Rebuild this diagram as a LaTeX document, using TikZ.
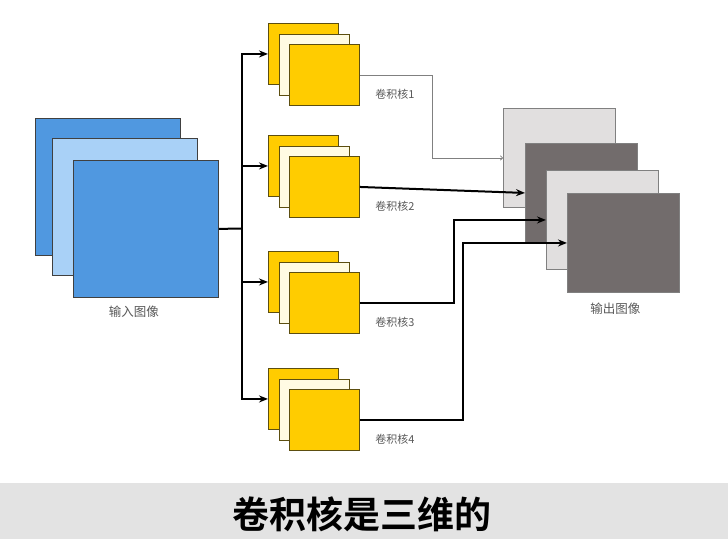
\documentclass[tikz,border=0pt]{standalone}
\usepackage{fontspec}
\newfontfamily\cjk{Noto Sans CJK SC}[BoldFont={Noto Sans CJK SC Bold}]
\usetikzlibrary{arrows.meta,positioning,calc}

\definecolor{imgblue}{HTML}{5098E0}
\definecolor{imglight}{HTML}{A9D1F7}
\definecolor{kgold}{HTML}{FFCC00}
\definecolor{kedge}{HTML}{5C4E10}
\definecolor{kcream}{HTML}{FFFBE3}
\definecolor{olight}{HTML}{E1DFDF}
\definecolor{odark}{HTML}{726C6C}
\definecolor{band}{HTML}{E3E3E3}

\begin{document}
\begin{tikzpicture}[
    x=1pt, y=-1pt,
    sheet/.style={
        draw,
        inner sep=0pt,
        anchor=north west
    },
    inbox/.style={
        sheet,
        draw=black!75,
        line width=0.8pt,
        minimum width=145pt,
        minimum height=137pt
    },
    kbox/.style={
        sheet,
        draw=kedge,
        line width=0.9pt,
        minimum width=70pt,
        minimum height=61pt
    },
    outbox/.style={
        sheet,
        draw=black!50,
        line width=0.9pt,
        minimum width=112pt,
        minimum height=99pt
    },
    lbl/.style={font=\cjk\fontsize{11}{13}\selectfont, text=black!65},
    feed/.style={-{Stealth[length=9pt,width=7pt]}, line width=2pt},
    thinfeed/.style={-{To[length=3pt,width=5pt]}, line width=0.7pt, draw=black!50},
    >=Stealth
]

\fill[white] (0,0) rectangle (728,539);
\useasboundingbox (0,0) rectangle (728,539);

% input image
\node[inbox, fill=imgblue] (in1) at (35,118) {};
\node[inbox, fill=imglight] (in2) at (52,138) {};
\node[inbox, fill=imgblue] (in3) at (73,160) {};
\node[lbl, font=\cjk\fontsize{12.5}{14}\selectfont] (inlabel) at ($(in3.south)+(-12,14)$) {输入图像};

% kernels
\foreach \i/\y in {1/23,2/135,3/251,4/368} {
    \node[kbox, fill=kgold] (ka\i) at (268,\y) {};
    \node[kbox, fill=kcream] (kb\i) at (279,\y+11) {};
    \node[kbox, fill=kgold] (kc\i) at (289,\y+21) {};
    \node[lbl, anchor=west] (klabel\i) at ($(kc\i.south east)+(12,-12)$) {卷积核\i};
}

% output image
\node[outbox, fill=olight] (o1) at (503,108) {};
\node[outbox, fill=odark] (o2) at (525,143) {};
\node[outbox, fill=olight] (o3) at (546,170) {};
\node[outbox, fill=odark] (o4) at (567,193) {};
\node[lbl, font=\cjk\fontsize{12.5}{14}\selectfont] (outlabel) at ($(o4.south)+(-8,16)$) {输出图像};

% input to kernels
\coordinate (split) at (242,228.5);
\draw[line width=2pt] (in3.east) -- (split);
\foreach \i in {1,...,4}
    \draw[feed] (split) |- (ka\i.west);

% kernels to output
\draw[thinfeed] (kc1.east) -- ++(72,0) |- (o1.west);
\draw[feed] (kc2.east) -- (o2.west);
\draw[feed] (kc3.east) -- ++(94,0) |- (o3.west);
\draw[feed] (kc4.east) -- ++(103,0) |- (o4.west);

% caption band
\fill[band] (0,483) rectangle (728,539);
\node[font=\cjk\bfseries\fontsize{37}{40}\selectfont] (title) at (362,514) {卷积核是三维的};

\end{tikzpicture}
\end{document}
